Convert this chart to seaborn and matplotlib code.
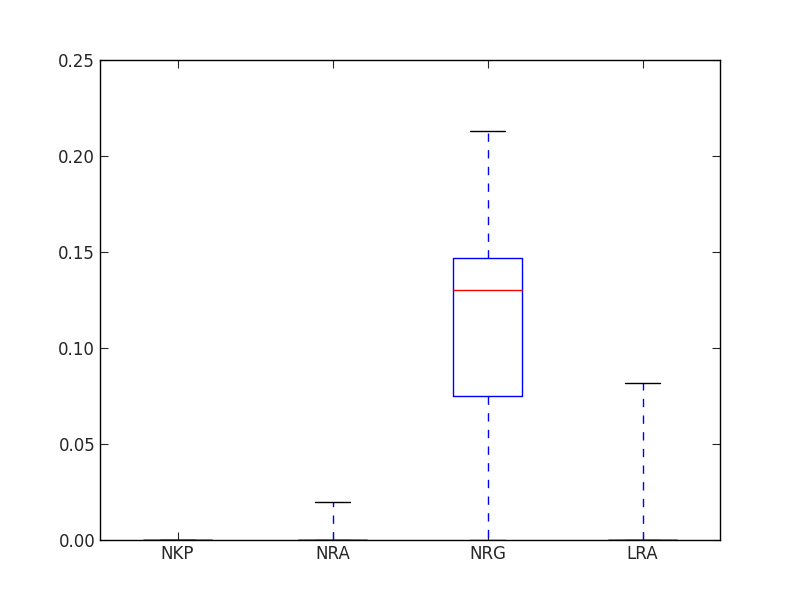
import numpy as np
import pandas as pd
import matplotlib
matplotlib.use('Agg')
import matplotlib.pyplot as plt
import seaborn as sns

sns.set_style('ticks')
plt.rcParams['font.family'] = ['DejaVu Sans']

# データ
categories = ['NKP', 'NRA', 'NRG', 'LRA']
nkp = [0.0, 0.0, 0.0, 0.0, 0.0]
nra = [0.0, 0.0, 0.0, 0.0, 0.020]
nrg = [0.0, 0.075, 0.130, 0.147, 0.213]
lra = [0.0, 0.0, 0.0, 0.0, 0.082]

df = pd.DataFrame({
    'グループ': np.repeat(categories, 5),
    '値': nkp + nra + nrg + lra,
})

fig, ax = plt.subplots(figsize=(8, 6), dpi=100)
sns.boxplot(
    data=df, x='グループ', y='値', ax=ax, fill=False, width=0.45, whis=(0, 100),
    boxprops=dict(color='blue', linewidth=1),
    medianprops=dict(color='red', linewidth=1),
    whiskerprops=dict(color='blue', linestyle='--', linewidth=1, dashes=(6, 6)),
    capprops=dict(color='black', linewidth=1),
    showfliers=False,
)
ax.set_ylim(0, 0.25)
ax.set_yticks([0.0, 0.05, 0.10, 0.15, 0.20, 0.25])
ax.set_yticklabels(['0.00', '0.05', '0.10', '0.15', '0.20', '0.25'])
ax.set_xlabel(''); ax.set_ylabel('')
ax.tick_params(direction='in', top=True, right=True, labelsize=12, length=6)
for s in ax.spines.values():
    s.set_visible(True); s.set_color('black'); s.set_linewidth(1)
plt.subplots_adjust(left=0.125, right=0.9, bottom=0.1, top=0.9)
plt.savefig('out.png', dpi=100)
